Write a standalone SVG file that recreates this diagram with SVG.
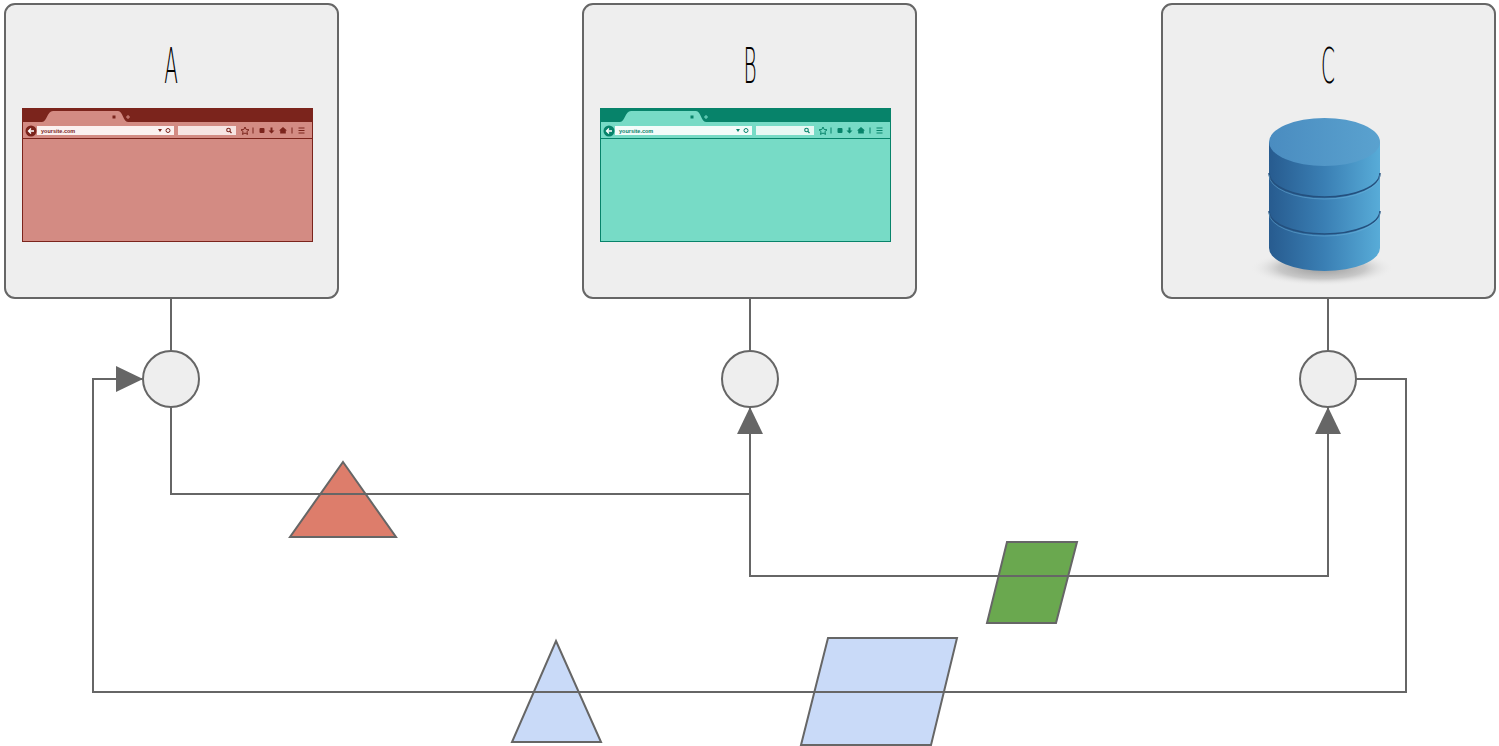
<svg xmlns="http://www.w3.org/2000/svg" xmlns:xlink="http://www.w3.org/1999/xlink" width="1499" height="746" viewBox="0 0 1499 746">
<style>
.box{fill:#eeeeee;stroke:#666666;stroke-width:2}
.port{fill:#eeeeee;stroke:#666666;stroke-width:2}
.edge{fill:none;stroke:#666666;stroke-width:2}
.shape{stroke:#666666;stroke-width:2}
.lbl{font-family:"DejaVu Sans",sans-serif;font-weight:200;font-size:50px;fill:#000;text-anchor:middle}
.red .dk{fill:#7b241c}.red .lt{fill:#d38b83}.red .fld{fill:#fbf1f0}.red .fld2{fill:#f7e5e3}.red .dks{stroke:#7b241c}
.grn .dk{fill:#07836a}.grn .lt{fill:#77dbc6}.grn .fld{fill:#f3fcfa}.grn .fld2{fill:#e8f8f4}.grn .dks{stroke:#07836a}
.url{font-family:"Liberation Sans",Arial,sans-serif;font-size:5.5px;font-weight:bold}
</style>
<defs>
<marker id="arr" viewBox="0 0 10 10" refX="10" refY="5" markerWidth="27" markerHeight="27" markerUnits="userSpaceOnUse" orient="auto">
<path d="M0,0.2 L10,5 L0,9.8 Z" fill="#666666"/>
</marker>
<linearGradient id="side" x1="0" y1="0" x2="1" y2="0">
<stop offset="0" stop-color="#275b8f"/>
<stop offset="0.5" stop-color="#3a7fb4"/>
<stop offset="1" stop-color="#58acd8"/>
</linearGradient>
<linearGradient id="top" x1="0" y1="0" x2="1" y2="0">
<stop offset="0" stop-color="#4a8cc0"/>
<stop offset="1" stop-color="#5aa2cf"/>
</linearGradient>
<radialGradient id="shadow" cx="0.5" cy="0.5" r="0.5">
<stop offset="0" stop-color="#9a9a9a"/>
<stop offset="0.6" stop-color="#c8c8c8"/>
<stop offset="1" stop-color="#eeeeee" stop-opacity="0"/>
</radialGradient>
</defs>

<g id="nodeA">
<rect class="box" x="5" y="4" width="333" height="294" rx="10"/>
<text class="lbl" transform="translate(171,83) scale(0.4,1)">A</text>
<g class="red" transform="translate(22,108)">
<rect class="dk" x="0" y="0" width="291" height="134"/>
<path class="lt" d="M20,14 C25,14 25,3 31,3 H96 C101,3 101,14 106,14 Z"/>
<rect class="dk" x="90.5" y="7.5" width="3" height="3"/>
<path d="M104,9 h4 M106,7 v4" stroke="#d38b83" stroke-width="1"/>
<rect class="lt" x="1" y="14" width="289" height="16"/>
<circle class="dk" cx="9" cy="23" r="5.5"/>
<path d="M12,23 H7 M9,20.5 L6.5,23 L9,25.5" stroke="#fff" stroke-width="1.3" fill="none"/>
<rect class="fld" x="15" y="18" width="137" height="9"/>
<text class="url dk" x="19" y="25">yoursite.com</text>
<path class="dk" d="M136,21 h4 l-2,3 z"/>
<circle class="dks" cx="146" cy="22.5" r="2" fill="none" stroke-width="1"/>
<rect class="fld2" x="156" y="18" width="58" height="9"/>
<circle class="dks" cx="206.5" cy="22" r="1.8" fill="none" stroke-width="1.1"/>
<path class="dks" d="M207.8,23.3 L209.5,25" stroke-width="1.2"/>
<path class="dks" d="M223,19 l1.2,2.5 2.8,.3 -2.1,1.8 .6,2.8 -2.5,-1.4 -2.5,1.4 .6,-2.8 -2.1,-1.8 2.8,-.3 z" fill="none" stroke-width="1"/>
<path class="dks" d="M231,19.5 v6" stroke-width="1"/>
<rect class="dk" x="237.5" y="20" width="5" height="5" rx="1"/>
<path class="dk" d="M248.5,19.5 h2 v3 h2 l-3,3 -3,-3 h2 z"/>
<path class="dk" d="M261,19 l4,3.5 h-1.2 v3 h-5.6 v-3 h-1.2 z"/>
<path class="dks" d="M270,19.5 v6" stroke-width="1"/>
<path class="dks" d="M276.5,20 h6 M276.5,22.5 h6 M276.5,25 h6" stroke-width="1.1"/>
<rect class="lt" x="1" y="31" width="289" height="102"/>
</g>
</g>

<g id="nodeB">
<rect class="box" x="583" y="4" width="333" height="294" rx="10"/>
<text class="lbl" transform="translate(750,83) scale(0.4,1)">B</text>
<g class="grn" transform="translate(600,108)">
<rect class="dk" x="0" y="0" width="291" height="134"/>
<path class="lt" d="M20,14 C25,14 25,3 31,3 H96 C101,3 101,14 106,14 Z"/>
<rect class="dk" x="90.5" y="7.5" width="3" height="3"/>
<path d="M104,9 h4 M106,7 v4" stroke="#77dbc6" stroke-width="1"/>
<rect class="lt" x="1" y="14" width="289" height="16"/>
<circle class="dk" cx="9" cy="23" r="5.5"/>
<path d="M12,23 H7 M9,20.5 L6.5,23 L9,25.5" stroke="#fff" stroke-width="1.3" fill="none"/>
<rect class="fld" x="15" y="18" width="137" height="9"/>
<text class="url dk" x="19" y="25">yoursite.com</text>
<path class="dk" d="M136,21 h4 l-2,3 z"/>
<circle class="dks" cx="146" cy="22.5" r="2" fill="none" stroke-width="1"/>
<rect class="fld2" x="156" y="18" width="58" height="9"/>
<circle class="dks" cx="206.5" cy="22" r="1.8" fill="none" stroke-width="1.1"/>
<path class="dks" d="M207.8,23.3 L209.5,25" stroke-width="1.2"/>
<path class="dks" d="M223,19 l1.2,2.5 2.8,.3 -2.1,1.8 .6,2.8 -2.5,-1.4 -2.5,1.4 .6,-2.8 -2.1,-1.8 2.8,-.3 z" fill="none" stroke-width="1"/>
<path class="dks" d="M231,19.5 v6" stroke-width="1"/>
<rect class="dk" x="237.5" y="20" width="5" height="5" rx="1"/>
<path class="dk" d="M248.5,19.5 h2 v3 h2 l-3,3 -3,-3 h2 z"/>
<path class="dk" d="M261,19 l4,3.5 h-1.2 v3 h-5.6 v-3 h-1.2 z"/>
<path class="dks" d="M270,19.5 v6" stroke-width="1"/>
<path class="dks" d="M276.5,20 h6 M276.5,22.5 h6 M276.5,25 h6" stroke-width="1.1"/>
<rect class="lt" x="1" y="31" width="289" height="102"/>
</g>
</g>

<g id="nodeC">
<rect class="box" x="1162" y="4" width="333" height="294" rx="10"/>
<text class="lbl" transform="translate(1328,83) scale(0.4,1)">C</text>
<ellipse cx="1322" cy="268" rx="72" ry="18" fill="url(#shadow)"/>
<path d="M1269,142 V248 A55.5,23 0 0 0 1380,248 V142 Z" fill="url(#side)"/>
<path d="M1269,173 A55.5,24 0 0 0 1380,173" fill="none" stroke="#24507e" stroke-width="1.5"/>
<path d="M1269,175 A55.5,24 0 0 0 1380,175" fill="none" stroke="#6fb3dc" stroke-width="0.8" opacity="0.6"/>
<path d="M1269,211 A55.5,23 0 0 0 1380,211" fill="none" stroke="#24507e" stroke-width="1.5"/>
<path d="M1269,213 A55.5,23 0 0 0 1380,213" fill="none" stroke="#6fb3dc" stroke-width="0.8" opacity="0.6"/>
<ellipse cx="1324.5" cy="142" rx="55.5" ry="24" fill="url(#top)"/>
</g>

<g id="portA"><circle class="port" cx="171" cy="379" r="28"/></g>
<g id="portB"><circle class="port" cx="750" cy="379" r="28"/></g>
<g id="portC"><circle class="port" cx="1328" cy="379" r="28"/></g>

<g id="redTriangle"><polygon class="shape" points="343,462 396,537 290,537" fill="#dd7d6b"/></g>
<g id="greenParallelogram"><polygon class="shape" points="1007,542 1077,542 1056,623 987,623" fill="#6aa84f"/></g>
<g id="blueTriangle"><polygon class="shape" points="556,641 601,742 512,742" fill="#c9daf8"/></g>
<g id="blueParallelogram"><polygon class="shape" points="828,638 957,638 931,745 801,745" fill="#c9daf8"/></g>

<g id="connectors">
<path class="edge" d="M171,298 V351"/>
<path class="edge" d="M750,298 V351"/>
<path class="edge" d="M1328,298 V351"/>
<path class="edge" d="M171,407 V494 H750 V407" marker-end="url(#arr)"/>
<path class="edge" d="M750,494 V576 H1328 V407" marker-end="url(#arr)"/>
<path class="edge" d="M1356,379 H1406 V692 H93 V379 H143" marker-end="url(#arr)"/>
</g>
</svg>
